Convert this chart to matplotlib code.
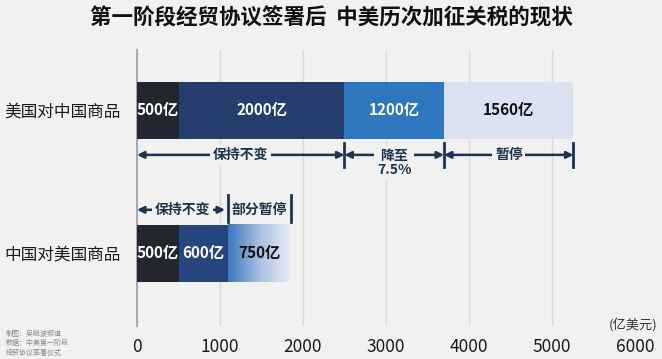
import matplotlib
matplotlib.use("Agg")
import matplotlib.pyplot as plt
import numpy as np
from matplotlib.colors import LinearSegmentedColormap

plt.rcParams['font.family'] = ['Noto Sans CJK SC', 'DejaVu Sans']

title = "第一阶段经贸协议签署后  中美历次加征关税的现状"
categories = ["美国对中国商品", "中国对美国商品"]
us_values = [500, 2000, 1200, 1560]
cn_values = [500, 600, 750]
us_labels = ["500亿", "2000亿", "1200亿", "1560亿"]
cn_labels = ["500亿", "600亿", "750亿"]
us_groups = ["保持不变", "降至\n7.5%", "暂停"]
cn_groups = ["保持不变", "部分暂停"]
xticks = [0, 1000, 2000, 3000, 4000, 5000, 6000]
unit = "(亿美元)"
source = "制图：吴晓波频道\n数据：中美第一阶段\n经贸协议签署仪式"

bg = "#f1f1f1"
us_colors = ["#23262f", "#243f6d", "#2e76bd", "#dbe3f3"]
cn_colors = ["#23262f", "#24457e", "#3a78c0"]
us_text = ["white", "white", "white", "#111111"]
cn_text = ["white", "white", "#111111"]
arrow_c = "#1b3550"

fig = plt.figure(figsize=(6.62, 3.59), dpi=100, facecolor=bg)
ax = fig.add_axes([0.207, 0.092, 0.752, 0.769], facecolor=bg)

bh = 0.4
left = 0
us_patches = []
for v, c in zip(us_values, us_colors):
    p = ax.barh(0, v, left=left, height=bh, color=c, zorder=3)[0]
    us_patches.append(p)
    left += v
left = 0
cn_patches = []
for v, c in zip(cn_values, cn_colors):
    p = ax.barh(1, v, left=left, height=bh, color=c, zorder=3)[0]
    cn_patches.append(p)
    left += v

# gradient on last CN segment
p = cn_patches[-1]
x0, y0, w, h = p.get_x(), p.get_y(), p.get_width(), p.get_height()
cmap = LinearSegmentedColormap.from_list("g", ["#3a78c0", "#a9bfe0", "#e9eef8"])
grad = np.linspace(0, 1, 256).reshape(1, -1)
ax.imshow(grad, cmap=cmap, extent=[x0, x0 + w, y0 + h, y0], aspect='auto', zorder=4)
p.set_visible(False)

for p, lab, tc in zip(us_patches, us_labels, us_text):
    ax.text(p.get_x() + p.get_width() / 2, 0, lab, ha='center', va='center',
            color=tc, fontsize=11, fontweight='bold', zorder=6)
for p, lab, tc in zip(cn_patches, cn_labels, cn_text):
    ax.text(p.get_x() + p.get_width() / 2, 1, lab, ha='center', va='center',
            color=tc, fontsize=11, fontweight='bold', zorder=6)

# group annotations for US bar
us_bounds = [0, sum(us_values[:2]), sum(us_values[:3]), sum(us_values)]
ya = 0.311
for i, lab in enumerate(us_groups):
    a, b = us_bounds[i], us_bounds[i + 1]
    ax.annotate("", xy=(a, ya), xytext=(b, ya),
                arrowprops=dict(arrowstyle='<|-|>', color=arrow_c, lw=1.8,
                                mutation_scale=10, shrinkA=0, shrinkB=0), zorder=5)
    yt = ya + 0.055 if '\n' in lab else ya
    ax.text((a + b) / 2, yt, lab, ha='center', va='center',
            fontsize=10, fontweight='bold', color=arrow_c, zorder=6,
            linespacing=1.0,
            bbox=dict(facecolor=bg, edgecolor='none', pad=2))
for b in us_bounds[1:]:
    ax.plot([b, b], [0.227, 0.395], color=arrow_c, lw=2, zorder=5)

# group annotations for CN bar
yb = 1 - 0.305
cb = [0, sum(cn_values[:2]), sum(cn_values)]
ax.annotate("", xy=(cb[0], yb), xytext=(cb[1] - 40, yb),
            arrowprops=dict(arrowstyle='<|-|>', color=arrow_c, lw=1.8,
                            mutation_scale=10, shrinkA=0, shrinkB=0), zorder=5)
ax.text((cb[0] + cb[1]) / 2, yb, cn_groups[0], ha='center', va='center',
        fontsize=10, fontweight='bold', color=arrow_c, zorder=6,
        bbox=dict(facecolor=bg, edgecolor='none', pad=2))
ax.text((cb[1] + cb[2]) / 2, yb, cn_groups[1], ha='center', va='center',
        fontsize=10, fontweight='bold', color=arrow_c, zorder=6)
for b in cb[1:]:
    ax.plot([b, b], [1 - 0.41, 1 - 0.22], color=arrow_c, lw=2, zorder=5)

ax.set_xlim(0, 6000)
ax.set_ylim(1.507, -0.423)
ax.set_yticks([0, 1])
ax.set_yticklabels(categories, fontsize=12, color="#1a1a1a")
ax.set_xticks(xticks)
ax.set_xticklabels([str(x) for x in xticks], fontsize=12.5, color="#1a1a1a")
ax.tick_params(axis='y', length=0, pad=12)
ax.tick_params(axis='x', length=0, pad=9)
ax.grid(axis='x', color="#dadada", lw=1, zorder=0)
for s in ['top', 'right', 'bottom']:
    ax.spines[s].set_visible(False)
ax.spines['left'].set_color("#aaaaaa")
ax.spines['left'].set_linewidth(1.5)
ax.spines['left'].set_zorder(2)

fig.text(0.5, 0.95, title, ha='center', va='center', fontsize=15.5,
         fontweight='bold', color="#111111")
fig.text(0.993, 0.095, unit, ha='right', va='center', fontsize=9.5, color="#333333")
fig.text(0.008, 0.082, source, ha='left', va='top', fontsize=5, color="#888888",
         linespacing=1.3)

fig.savefig("out.png", dpi=100, facecolor=bg)
